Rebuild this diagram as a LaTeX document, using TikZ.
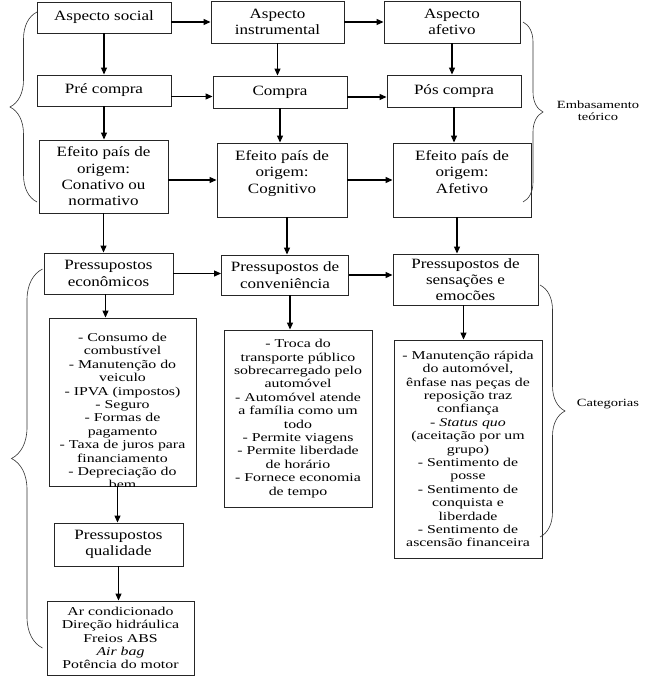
\documentclass[tikz,border=0pt]{standalone}
\usepackage{fontspec}
\setmainfont{Liberation Serif}
\newfontfamily\headfont{Liberation Serif}[FakeStretch=1.2]
\newfontfamily\bodyfont{Liberation Serif}[FakeStretch=1.32]
\newcommand{\headtxt}{\headfont\fontsize{14.2pt}{16.3pt}\selectfont}
\newcommand{\itemtxt}{\bodyfont\fontsize{12pt}{13.4pt}\selectfont}
\newcommand{\notetxt}{\bodyfont\fontsize{11pt}{12pt}\selectfont}
\usetikzlibrary{arrows.meta, decorations.pathreplacing}

\begin{document}
\begin{tikzpicture}[x=1pt, y=-1pt,
  box/.style={draw=black!85, line width=0.9pt, align=center, inner sep=2pt,
              font=\headtxt},
  lst/.style={draw=black!85, line width=0.9pt, align=center, inner sep=2pt,
              font=\itemtxt},
  note/.style={align=center, font=\notetxt},
  arr/.style={-{Triangle[length=7pt, width=6pt]}, line width=1.1pt},
  brc/.style={decorate, draw=black!80, line width=0.6pt},
]
\useasboundingbox (0,0) rectangle (648,687);

% Aspectos
\node[box, minimum width=134pt, minimum height=31pt] (a1) at (104,17.5) {Aspecto social};
\node[box, minimum width=133pt, minimum height=42pt] (a2) at (277.5,22) {Aspecto\\instrumental};
\node[box, minimum width=136pt, minimum height=42pt] (a3) at (452,22) {Aspecto\\afetivo};

% Compra
\node[box, minimum width=134pt, minimum height=31pt] (b1) at (104,90.5) {Pré compra};
\node[box, minimum width=134pt, minimum height=32pt] (b2) at (280,92) {Compra};
\node[box, minimum width=134pt, minimum height=32pt] (b3) at (454,91) {Pós compra};

% Efeito pais de origem
\node[box, minimum width=129pt, minimum height=73pt] (c1) at (103.5,176.5)
  {Efeito país de\\origem:\\Conativo ou\\normativo};
\node[box, minimum width=130pt, minimum height=74pt, text depth=16pt] (c2) at (282,180)
  {Efeito país de\\origem:\\Cognitivo};
\node[box, minimum width=138pt, minimum height=74pt, text depth=16pt] (c3) at (462,180)
  {Efeito país de\\origem:\\Afetivo};

% Pressupostos
\node[box, minimum width=129pt, minimum height=41pt] (p1) at (108.5,273.5) {Pressupostos\\econômicos};
\node[box, minimum width=127pt, minimum height=40pt] (p2) at (285,275) {Pressupostos de\\conveniência};
\node[box, minimum width=145pt, minimum height=51pt] (p3) at (465.5,279.5)
  {Pressupostos de\\sensações e\\emocões};

% Categorias
\node[lst, minimum width=147pt, minimum height=168pt] (l1) at (122.5,402) {};
\begin{scope}
  \clip (l1.north west) rectangle (l1.south east);
  \node[lst, draw=none] (l1t) at ([yshift=-9pt]l1.center)
    {- Consumo de\\combustível\\- Manutenção do\\veiculo\\- IPVA (impostos)\\- Seguro\\- Formas de\\pagamento\\- Taxa de juros para\\financiamento\\- Depreciação do\\bem};
\end{scope}
\node[lst, minimum width=148pt, minimum height=177pt] (l2) at (298,418.5)
  {- Troca do\\transporte público\\sobrecarregado pelo\\automóvel\\- Automóvel atende\\a família como um\\todo\\- Permite viagens\\- Permite liberdade\\de horário\\- Fornece economia\\de tempo};
\node[lst, minimum width=148pt, minimum height=218pt] (l3) at (468,449)
  {- Manutenção rápida\\do automóvel,\\ênfase nas peças de\\reposição traz\\confiança\\- \textit{Status quo}\\(aceitação por um\\grupo)\\- Sentimento de\\posse\\- Sentimento de\\conquista e\\liberdade\\- Sentimento de\\ascensão financeira};

% Qualidade
\node[box, minimum width=129pt, minimum height=43pt] (q1) at (118.5,544.5) {Pressupostos\\qualidade};
\node[lst, minimum width=147pt, minimum height=74pt] (l4) at (120.5,638)
  {Ar condicionado\\Direção hidráulica\\Freios ABS\\\textit{Air bag}\\Potência do motor};

% Arrows
\draw[arr] (a1.east |- a2.west) -- (a2.west);
\draw[arr] (a2) -- (a3);
\draw[arr] ([yshift=-6pt]b1.east) -- ([yshift=-6pt]b1.east -| b2.west);
\draw[arr] ([yshift=-5pt]b2.east) -- ([yshift=-5pt]b2.east -| b3.west);
\draw[arr] (c1.east |- c2.west) -- (c2.west);
\draw[arr] (c2) -- (c3);
\draw[arr] (p1.east) -- (p1.east -| p2.west);
\draw[arr] (p2.east) -- (p2.east -| p3.west);

\draw[arr] (a1) -- (b1);
\draw[arr] (a2.south) -- (a2.south |- b2.north);
\draw[arr] (a3.south) -- (a3.south |- b3.north);
\draw[arr] (b1.south) -- (b1.south |- c1.north);
\draw[arr] (b2.south) -- (b2.south |- c2.north);
\draw[arr] (b3.south) -- (b3.south |- c3.north);
\draw[arr] (c1.south) -- (c1.south |- p1.north);
\draw[arr] ([xshift=5pt]c2.south) -- ([xshift=5pt]c2.south |- p2.north);
\draw[arr] ([xshift=-5pt]c3.south) -- ([xshift=-5pt]c3.south |- p3.north);
\draw[arr] ([xshift=-3pt]p1.south) -- ([xshift=-3pt]p1.south |- l1.north);
\draw[arr] ([xshift=5pt]p2.south) -- ([xshift=5pt]p2.south |- l2.north);
\draw[arr] ([xshift=-2pt]p3.south) -- ([xshift=-2pt]p3.south |- l3.north);
\draw[arr] ([xshift=-5pt]l1.south) -- ([xshift=-5pt]l1.south |- q1.north);
\draw[arr] (q1.south) -- (q1.south |- l4.north);

% Braces
\draw[brc, decoration={brace, amplitude=27pt}] (37,202) -- (37,12);
\draw[brc, decoration={brace, amplitude=31pt}] (42.5,648) -- (42.5,269);
\draw[brc, decoration={brace, amplitude=20pt}] (523,22) -- (523,202);
\draw[brc, decoration={brace, amplitude=25pt}] (540,285) -- (540,537);

\node[note] (t1) at (598,111) {Embasamento\\teórico};
\node[note] (t2) at (608,404) {Categorias};

\end{tikzpicture}
\end{document}
